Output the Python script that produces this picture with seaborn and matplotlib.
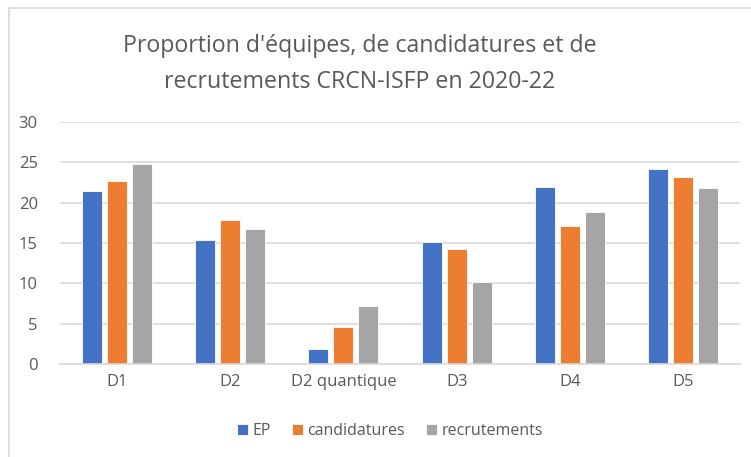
import pandas as pd
import matplotlib.pyplot as plt
import seaborn as sns
from matplotlib.patches import Rectangle

# Values
categories = ['D1', 'D2', 'D2 quantique', 'D3', 'D4', 'D5']
ep = [21.4, 15.4, 1.8, 15.1, 21.9, 24.2]
candidatures = [22.7, 17.9, 4.6, 14.2, 17.1, 23.2]
recrutements = [24.8, 16.7, 7.2, 10.2, 18.9, 21.8]
series_names = ['EP', 'candidatures', 'recrutements']
colors = ['#4472C4', '#ED7D31', '#A5A5A5']

data = pd.DataFrame({
    'categorie': categories * 3,
    'valeur': ep + candidatures + recrutements,
    'serie': [s for s in series_names for _ in categories],
})

sns.set_style('white')
plt.rcParams['font.family'] = ['Open Sans', 'DejaVu Sans']
text_color = '#595959'

fig = plt.figure(figsize=(7.51, 4.57), dpi=100)
ax = fig.add_axes([60 / 751, 93 / 457, 680 / 751, 242 / 457])

sns.barplot(
    data=data, x='categorie', y='valeur', hue='serie',
    palette=colors, width=0.66, gap=0.2, ax=ax,
    edgecolor='white', linewidth=0.6, saturation=1,
)

ax.set_ylim(0, 30)
ax.set_yticks(range(0, 31, 5))
ax.yaxis.grid(True, color='#D9D9D9', linewidth=1.2)
ax.set_axisbelow(True)
for side in ['top', 'right', 'left']:
    ax.spines[side].set_visible(False)
ax.spines['bottom'].set_color('#D9D9D9')
ax.spines['bottom'].set_linewidth(1.2)
ax.tick_params(axis='both', length=0, labelsize=12, labelcolor=text_color)
ax.tick_params(axis='x', pad=7)
ax.tick_params(axis='y', pad=16)
ax.set_xlabel('')
ax.set_ylabel('')

# Legend at the bottom
handles, labels = ax.get_legend_handles_labels()
ax.legend(handles, labels, loc='center', bbox_to_anchor=(390 / 751, 26 / 457),
          bbox_transform=fig.transFigure, ncol=3, frameon=False,
          fontsize=11.5, labelcolor=text_color, handlelength=0.7, handleheight=0.7,
          handletextpad=0.3, columnspacing=1.3)

# Title
fig.text(360 / 751, 1 - 64 / 457,
         "Proportion d'équipes, de candidatures et de\nrecrutements CRCN-ISFP en 2020-22",
         ha='center', va='center', fontsize=16.7, color=text_color, linespacing=1.7)

# Chart frame (partly cropped in the original)
fig.patches.append(Rectangle((9 / 751, -0.1), 1.2, 1 - 8 / 457 + 0.1,
                             transform=fig.transFigure, fill=False,
                             edgecolor='#D9D9D9', linewidth=1.2))

fig.savefig('out.png', dpi=100)
